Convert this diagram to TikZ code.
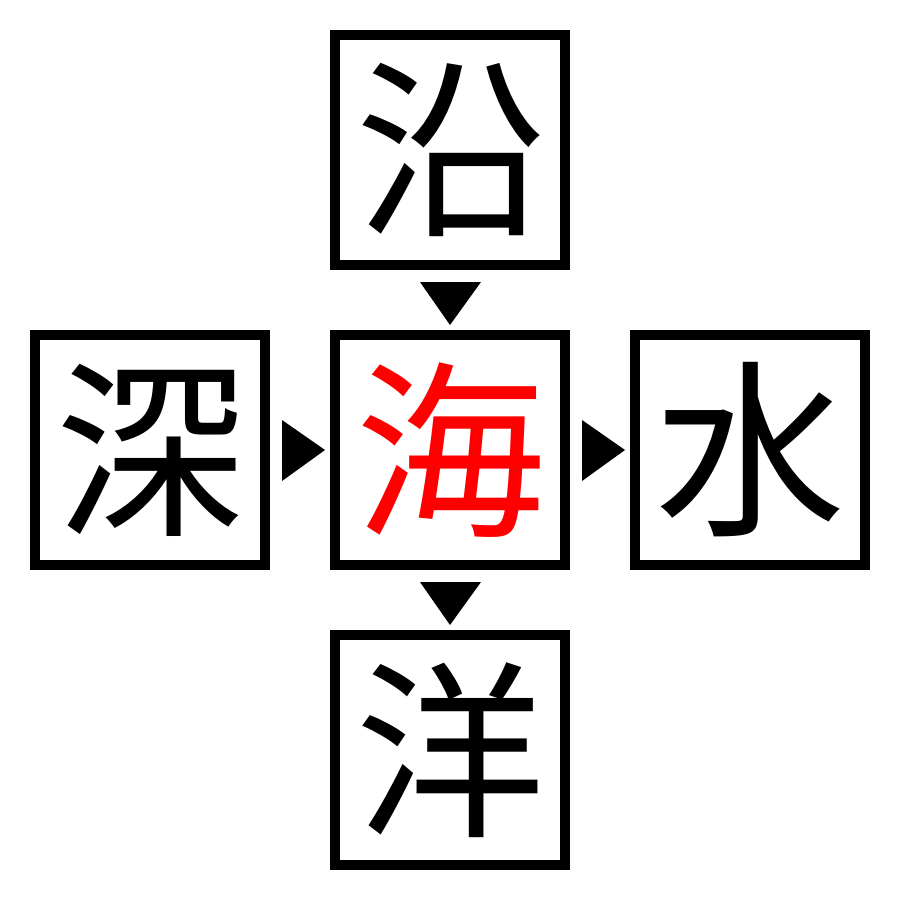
\documentclass[tikz,border=0pt]{standalone}
\usepackage{fontspec}
\newfontfamily\cjk{Noto Sans CJK JP}
\definecolor{kred}{RGB}{255,0,0}
\tikzset{
  kbox/.style={draw=black, line width=10pt, minimum width=230pt, minimum height=230pt, inner sep=0pt, font=\cjk\fontsize{190}{190}\selectfont},
  tri/.style={fill=black, draw=none}
}
\begin{document}
\begin{tikzpicture}[x=1pt,y=-1pt]
\useasboundingbox (0,0) rectangle (900,900);
\node[kbox] (top) at (450,150) {沿};
\node[kbox] (left) at (150,450) {深};
\node[kbox, text=kred] (center) at (450,450) {海};
\node[kbox] (right) at (750,450) {水};
\node[kbox] (bottom) at (450,750) {洋};
\fill[tri] (420,282) coordinate (t1) -- (481,282) -- (450,325) -- cycle;
\fill[tri] (282,420) coordinate (t2) -- (282,481) -- (325,450) -- cycle;
\fill[tri] (582,420) coordinate (t3) -- (582,481) -- (625,450) -- cycle;
\fill[tri] (420,582) coordinate (t4) -- (481,582) -- (450,625) -- cycle;
\end{tikzpicture}
\end{document}
